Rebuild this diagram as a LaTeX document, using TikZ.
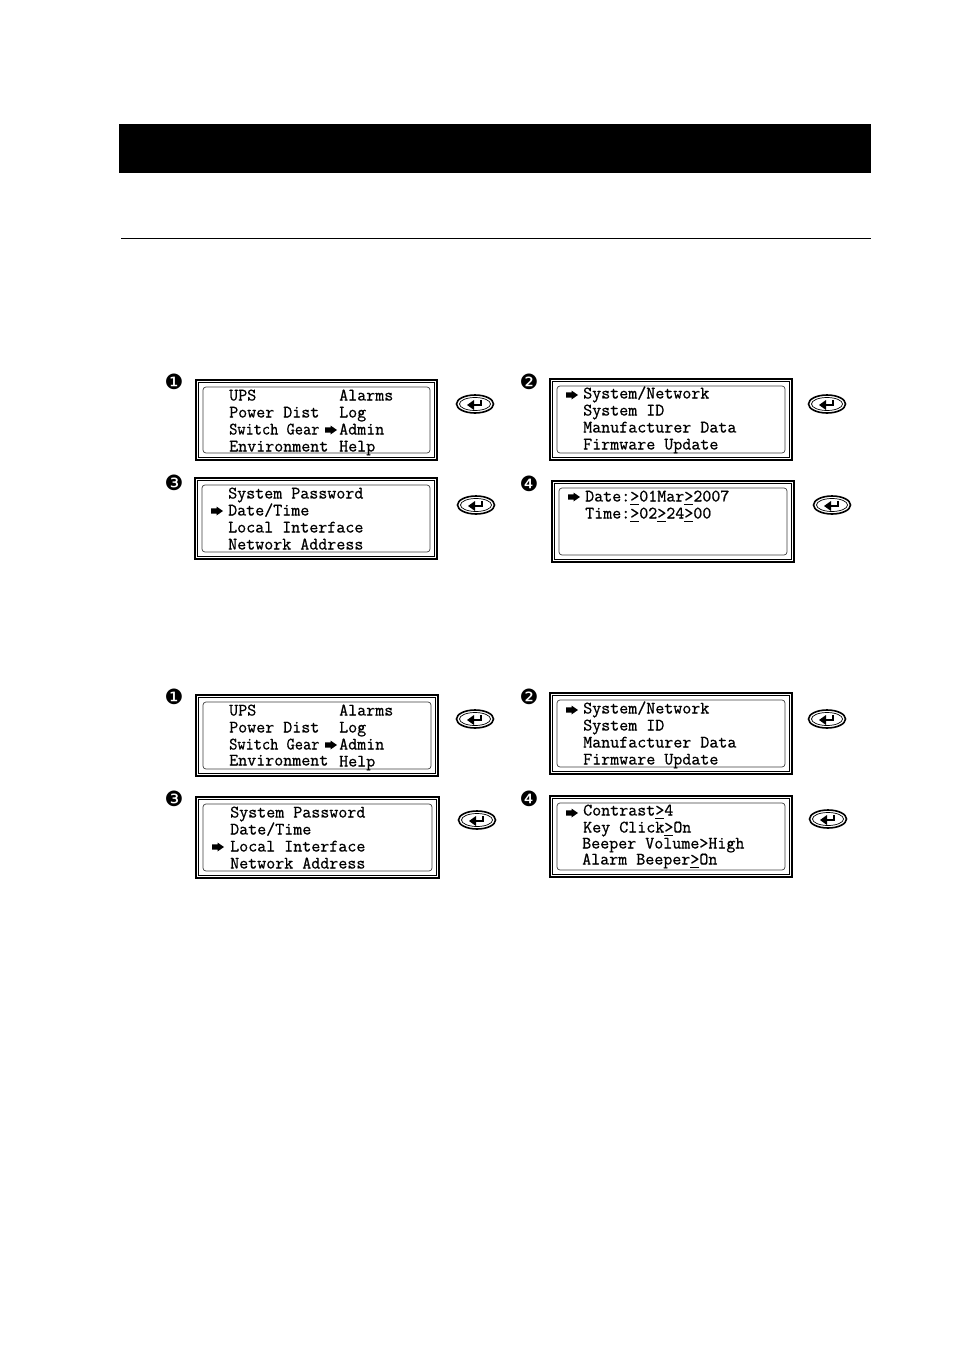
\documentclass[tikz,border=0pt]{standalone}
\usepackage{fontspec}
\setmainfont{Liberation Sans}
\newfontfamily\numfont{DejaVu Sans}
\newfontfamily\lcdfont{Latin Modern Mono}[FakeBold=0.7]
\newcommand{\ug}{\rlap{\rule[-3.5pt]{9pt}{1pt}}>}
\tikzset{
  lcdtext/.style={inner sep=0pt,anchor=base west,yshift=-0.5pt,font=\lcdfont\fontsize{17.5}{17}\selectfont},
  stepnum/.style={inner sep=0pt,font=\numfont\fontsize{21}{21}\selectfont},
  outerframe/.style={draw=black,line width=2pt,outer sep=0pt},
  midframe/.style={draw=black,line width=0.8pt},
  innerframe/.style={draw=black!75,line width=0.7pt,rounded corners=3pt},
}
\newcommand{\panel}[5]{%
  \node[outerframe,minimum width=#4-#2-2 pt,minimum height=#5-#3-2 pt,inner sep=0pt,anchor=north west] (#1) at (#2+1,#3+1) {};
  \draw[midframe] (#2+3.5,#3+3.5) rectangle (#4-3.5,#5-3.5);
  \draw[innerframe] (#2+8,#3+8) rectangle (#4-8,#5-8);
}
\newcommand{\lcd}[4]{\node[lcdtext] (#1) at (#2,#3) {#4};}
\newcommand{\marker}[3]{%
  \coordinate (#1) at (#2,#3);
  \fill[black] ($(#1)+(-6,-2.6)$) -- ($(#1)+(-0.5,-2.6)$) -- ($(#1)+(-0.5,-4.5)$) -- ($(#1)+(6,0)$) -- ($(#1)+(-0.5,4.5)$) -- ($(#1)+(-0.5,2.6)$) -- ($(#1)+(-6,2.6)$) -- cycle;
}
\newcommand{\enterkey}[3]{%
  \node[draw=black,line width=1.6pt,ellipse,minimum width=37pt,minimum height=18pt,inner sep=0pt] (#1) at (#2,#3) {};
  \draw[line width=0.7pt] (#1.center) ellipse [x radius=15.5,y radius=6.5];
  \draw[line width=1.2pt] ($(#1)+(6,-4)$) -- ($(#1)+(6,1)$) -- ($(#1)+(-3,1)$);
  \fill ($(#1)+(-8,1)$) -- ($(#1)+(-1,-4)$) -- ($(#1)+(-1,6)$) -- cycle;
}
\usetikzlibrary{calc,shapes.geometric}
\begin{document}
\begin{tikzpicture}[x=1pt,y=-1pt]
\useasboundingbox (0,0) rectangle (954,1351);
\fill[white] (0,0) rectangle (954,1351);
\node[fill=black,minimum width=752pt,minimum height=49pt,inner sep=0pt,anchor=north west] (header) at (119,124) {};
\coordinate (ruleL) at (121,238.5);
\coordinate (ruleR) at (871,238.5);
\draw[line width=0.8pt] (ruleL) -- (ruleR);

% upper group
\node[stepnum] (na1) at (174,382) {❶};
\panel{pa1}{195}{379}{438}{461}
\lcd{a1a}{229}{400}{UPS}\lcd{a1b}{229}{417}{Power Dist}\lcd{a1c}{229}{434}{\scalebox{0.91}[1]{Switch Gear}}\lcd{a1d}{229}{451}{Environment}
\lcd{a1e}{339}{400}{Alarms}\lcd{a1f}{339}{417}{Log}\lcd{a1g}{339}{434}{Admin}\lcd{a1h}{339}{451}{Help}
\marker{ma1}{331}{430}
\enterkey{ka1}{475}{404}

\node[stepnum] (na2) at (529,382) {❷};
\panel{pa2}{549}{378}{793}{461}
\lcd{a2a}{583}{398}{System/Network}\lcd{a2b}{583}{415}{System ID}\lcd{a2c}{583}{432}{Manufacturer Data}\lcd{a2d}{583}{449}{Firmware Update}
\marker{ma2}{572}{395}
\enterkey{ka2}{827}{404}

\node[stepnum] (na3) at (174,483) {❸};
\panel{pa3}{194}{477}{438}{560}
\lcd{a3a}{228}{498}{System Password}\lcd{a3b}{228}{515}{Date/Time}\lcd{a3c}{228}{532}{Local Interface}\lcd{a3d}{228}{549}{Network Address}
\marker{ma3}{217}{511}
\enterkey{ka3}{476}{505}

\node[stepnum] (na4) at (529,484) {❹};
\panel{pa4}{551}{480}{795}{563}
\lcd{a4a}{585}{501}{Date:\ug01Mar\ug2007}\lcd{a4b}{585}{518}{Time:\ug02\ug24\ug00}
\marker{ma4}{574}{497}
\enterkey{ka4}{832}{505}

% lower group
\node[stepnum] (nb1) at (174,697) {❶};
\panel{pb1}{195}{694}{439}{777}
\lcd{b1a}{229}{715}{UPS}\lcd{b1b}{229}{732}{Power Dist}\lcd{b1c}{229}{749}{\scalebox{0.91}[1]{Switch Gear}}\lcd{b1d}{229}{765}{Environment}
\lcd{b1e}{339}{715}{Alarms}\lcd{b1f}{339}{732}{Log}\lcd{b1g}{339}{749}{Admin}\lcd{b1h}{339}{766}{Help}
\marker{mb1}{331}{745}
\enterkey{kb1}{475}{719}

\node[stepnum] (nb2) at (529,697) {❷};
\panel{pb2}{549}{692}{793}{775}
\lcd{b2a}{583}{713}{System/Network}\lcd{b2b}{583}{730}{System ID}\lcd{b2c}{583}{747}{Manufacturer Data}\lcd{b2d}{583}{764}{Firmware Update}
\marker{mb2}{572}{710}
\enterkey{kb2}{827}{719}

\node[stepnum] (nb3) at (174,799) {❸};
\panel{pb3}{195}{796}{440}{879}
\lcd{b3a}{230}{817}{System Password}\lcd{b3b}{230}{834}{Date/Time}\lcd{b3c}{230}{851}{Local Interface}\lcd{b3d}{230}{868}{Network Address}
\marker{mb3}{218}{847}
\enterkey{kb3}{477}{820}

\node[stepnum] (nb4) at (529,799) {❹};
\panel{pb4}{549}{795}{793}{878}
\lcd{b4a}{583}{815}{Contrast\ug4}\lcd{b4b}{583}{832}{Key Click\ug On}\lcd{b4c}{582}{848}{Beeper Volume>High}\lcd{b4d}{582}{864}{Alarm Beeper\ug On}
\marker{mb4}{572}{813}
\enterkey{kb4}{828}{819}
\end{tikzpicture}
\end{document}
